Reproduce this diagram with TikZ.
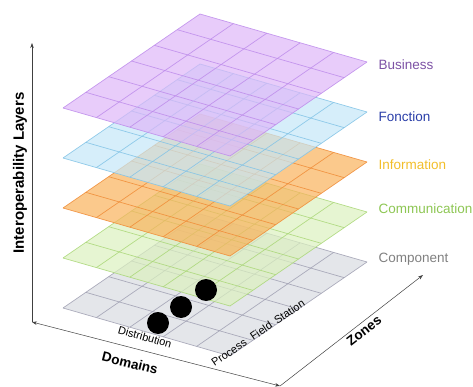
\documentclass[tikz,border=0pt]{standalone}
\usepackage{fontspec}
\setmainfont{Liberation Sans}
\usetikzlibrary{arrows.meta}

% layer colours (fill / grid)
\definecolor{busfill}{RGB}{222,182,248}
\definecolor{busline}{RGB}{190,140,235}
\definecolor{busText}{RGB}{125,82,165}
\definecolor{fonfill}{RGB}{196,231,248}
\definecolor{fonline}{RGB}{130,195,230}
\definecolor{fonText}{RGB}{42,62,168}
\definecolor{inffill}{RGB}{249,178,91}
\definecolor{infline}{RGB}{240,140,55}
\definecolor{infText}{RGB}{242,190,42}
\definecolor{comfill}{RGB}{220,241,191}
\definecolor{comline}{RGB}{170,215,120}
\definecolor{comText}{RGB}{141,198,83}
\definecolor{cpnfill}{RGB}{216,219,225}
\definecolor{cpnline}{RGB}{160,160,178}
\definecolor{cpnText}{RGB}{128,128,128}

\begin{document}
\begin{tikzpicture}[x=1pt, y=-1pt,
    layerlabel/.style={anchor=base west, font=\fontsize{13.5}{16}\selectfont},
    axislabel/.style={font=\bfseries\fontsize{13.5}{16}\selectfont},
    edgelabel/.style={font=\fontsize{11}{13}\selectfont},
    dot/.style={circle, fill=black, inner sep=0pt, minimum size=22pt},
    axis/.style={draw=black!75, line width=0.5pt}]
    \useasboundingbox (0,0) rectangle (473,387);

    % Layers, bottom to top
    \foreach \y/\fc/\lc in {308/cpnfill/cpnline, 258/comfill/comline, 208/inffill/infline, 158/fonfill/fonline, 108/busfill/busline} {
        \begin{scope}[shift={(63,\y)}]
            \fill[\fc, fill opacity=0.7] (0,0) -- (167,48) -- (304,-46) -- (137,-94) -- cycle;
            \foreach \i in {0,...,5}
                \draw[\lc, opacity=0.85, line width=0.7pt] (\i*33.4, \i*9.6) -- ++(137,-94);
            \foreach \j in {0,...,6}
                \draw[\lc, opacity=0.85, line width=0.7pt] (\j*22.833, -\j*15.667) -- ++(167,48);
        \end{scope}
    }

    % Layer names
    \node[layerlabel, text=busText] (business) at (375,70) {Business};
    \node[layerlabel, text=fonText] (fonction) at (375,122) {Fonction};
    \node[layerlabel, text=infText] (information) at (375,170) {Information};
    \node[layerlabel, text=comText] (communication) at (375,213) {Communication};
    \node[layerlabel, text=cpnText] (component) at (375,262) {Component};

    % Dots on the component layer
    \node[dot] (process) at (158,323) {};
    \node[dot] (field) at (181,307) {};
    \node[dot] (station) at (206,290) {};

    % Edge labels
    \node[edgelabel, rotate=-16] (distribution) at (145,337) {Distribution};
    \node[edgelabel, rotate=34, inner sep=0pt] (zonelbl) at (258,333)
        {Process\hspace{7pt}Field\hspace{5pt}Station};

    % Axes
    \coordinate (origin) at (32,322);
    \coordinate (layertop) at (32,43);
    \coordinate (corner) at (280,386);
    \coordinate (zonetop) at (423,275);
    \draw[axis, -{Stealth[length=5pt, width=3.5pt]}] (origin) -- (layertop);
    \draw[axis, {Stealth[length=5pt, width=3.5pt]}-{Stealth[length=5pt, width=3.5pt]}] (origin) -- (corner);
    \draw[axis, -{Stealth[length=5pt, width=3.5pt]}] (corner) -- (zonetop);

    \node[axislabel, rotate=90, font=\bfseries\fontsize{15}{17}\selectfont] (layers) at (20,173) {Interoperability Layers};
    \node[axislabel, rotate=-14] (domains) at (130,363) {Domains};
    \node[axislabel, rotate=38] (zones) at (364,331) {Zones};
\end{tikzpicture}
\end{document}
